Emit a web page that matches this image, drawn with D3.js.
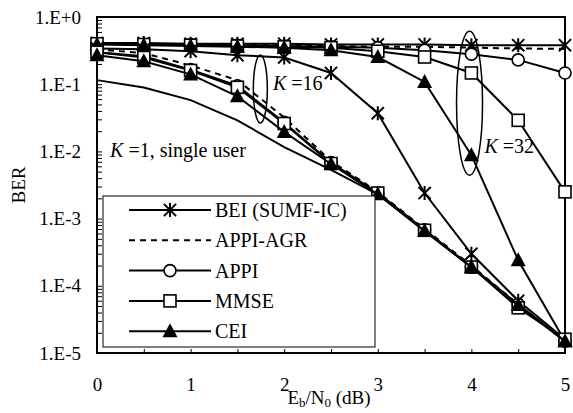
<!DOCTYPE html>
<html>
<head>
<meta charset="utf-8">
<script src="https://cdn.jsdelivr.net/npm/d3@7"></script>
<style>
  body { margin: 0; background: #fff; }
  svg text { font-family: "Liberation Serif", "Times New Roman", serif; fill: #000; }
</style>
</head>
<body>
<div id="container"></div>
<script>
// Eb/N0 in dB
var snr = [0, 0.5, 1, 1.5, 2, 2.5, 3, 3.5, 4, 4.5, 5];

// K = 32 users
var bei32  = [0.41, 0.41, 0.40, 0.40, 0.40, 0.39, 0.39, 0.39, 0.38, 0.38, 0.38];
var agr32  = [0.40, 0.39, 0.39, 0.38, 0.38, 0.37, 0.36, 0.36, 0.35, 0.34, 0.335];
var appi32 = [0.40, 0.39, 0.39, 0.38, 0.37, 0.36, 0.35, 0.32, 0.28, 0.23, 0.147];
var mmse32 = [0.40, 0.39, 0.38, 0.37, 0.36, 0.35, 0.31, 0.254, 0.147, 0.029, 0.0025];
var cei32  = [0.39, 0.38, 0.37, 0.36, 0.35, 0.32, 0.254, 0.108, 0.0088, 2.4e-4, 1.5e-5];

// K = 16 users
var bei16  = [0.34, 0.33, 0.31, 0.27, 0.25, 0.147, 0.037, 0.0024, 3.0e-4, 6.0e-5, 1.6e-5];
var agr16  = [0.33, 0.29, 0.19, 0.115, 0.032, 0.0072, 0.0025, 7.0e-4, 2.0e-4, 5.3e-5, 1.5e-5];
var appi16 = [0.30, 0.26, 0.165, 0.095, 0.027, 0.0068, 0.0024, 6.8e-4, 1.9e-4, 5.3e-5, 1.5e-5];
var mmse16 = [0.30, 0.25, 0.16, 0.09, 0.026, 0.0066, 0.0024, 6.7e-4, 1.9e-4, 4.7e-5, 1.6e-5];
var cei16  = [0.27, 0.22, 0.14, 0.066, 0.0195, 0.0065, 0.0023, 6.6e-4, 1.9e-4, 5.2e-5, 1.5e-5];

// K = 1, single user
var single = [0.115, 0.089, 0.058, 0.029, 0.0116, 0.0053, 0.0023, 6.5e-4, 1.9e-4, 5.1e-5, 1.5e-5];

var xTicks = [0, 0.5, 1, 1.5, 2, 2.5, 3, 3.5, 4, 4.5, 5];
var legendNames = ["BEI (SUMF-IC)", "APPI-AGR", "APPI", "MMSE", "CEI"];

var series = [
  { name: "BEI", marker: "star", dash: null, values: bei32 },
  { name: "APPI-AGR", marker: "none", dash: "6,5", values: agr32 },
  { name: "APPI", marker: "circle", dash: null, values: appi32 },
  { name: "MMSE", marker: "square", dash: null, values: mmse32 },
  { name: "CEI", marker: "triangle", dash: null, values: cei32 },
  { name: "BEI", marker: "star", dash: null, values: bei16 },
  { name: "APPI-AGR", marker: "none", dash: "6,5", values: agr16 },
  { name: "APPI", marker: "circle", dash: null, values: appi16 },
  { name: "MMSE", marker: "square", dash: null, values: mmse16 },
  { name: "CEI", marker: "triangle", dash: null, values: cei16 },
  { name: "single", marker: "none", dash: null, values: single }
];
var legendMarkers = ["star", "none", "circle", "square", "triangle"];
var legendDash = [null, "6,5", null, null, null];

var margin = { top: 17, right: 8, bottom: 60, left: 97 },
    width = 573 - margin.left - margin.right,
    height = 413 - margin.top - margin.bottom;

var svg = d3.select("div#container")
  .append("svg")
  .attr("width", 573)
  .attr("height", 413);

var g = svg.append("g")
  .attr("transform", "translate(" + margin.left + "," + margin.top + ")");

var x = d3.scaleLinear().domain([0, 5]).range([0, width]);
var y = d3.scaleLog().domain([1e-5, 1]).range([height, 0]);

// y ticks: majors with labels, minors inside
var yTickVals = [];
for (var e = -5; e < 0; e++) {
  for (var m = 1; m < 10; m++) yTickVals.push(m * Math.pow(10, e));
}
yTickVals.push(1);

function yLabel(d) {
  var p = Math.round(Math.log10(d));
  if (Math.abs(d - Math.pow(10, p)) > 1e-12) return "";
  return p === 0 ? "1.E+0" : "1.E" + p;
}

var yAxis = g.append("g")
  .call(d3.axisLeft(y).tickValues(yTickVals).tickSize(-5).tickPadding(16).tickFormat(yLabel));
yAxis.select(".domain").remove();
yAxis.selectAll("line").attr("stroke", "#000").attr("stroke-width", 1);
yAxis.selectAll("text").style("font-size", "19px");

var xAxis = g.append("g")
  .attr("transform", "translate(0," + height + ")")
  .call(d3.axisBottom(x).tickValues(xTicks).tickSize(-4).tickPadding(25)
    .tickFormat(function (d) { return d % 1 === 0 ? d : ""; }));
xAxis.select(".domain").remove();
xAxis.selectAll("line").attr("stroke", "#000").attr("stroke-width", 1);
xAxis.selectAll("text").style("font-size", "19px");

// frame
g.append("rect")
  .attr("width", width).attr("height", height)
  .attr("fill", "none").attr("stroke", "#000").attr("stroke-width", 2);

var line = d3.line()
  .x(function (d) { return x(d[0]); })
  .y(function (d) { return y(d[1]); });

function drawMarker(sel, type, cx, cy) {
  if (type === "star") {
    var r = 7;
    sel.append("path")
      .attr("d", "M" + cx + "," + (cy - r) + "V" + (cy + r) +
        "M" + (cx - r * 0.87) + "," + (cy - r * 0.87) + "L" + (cx + r * 0.87) + "," + (cy + r * 0.87) +
        "M" + (cx - r * 0.87) + "," + (cy + r * 0.87) + "L" + (cx + r * 0.87) + "," + (cy - r * 0.87))
      .attr("stroke", "#000").attr("stroke-width", 2).attr("fill", "none");
  } else if (type === "circle") {
    sel.append("circle").attr("cx", cx).attr("cy", cy).attr("r", 6)
      .attr("fill", "#fff").attr("stroke", "#000").attr("stroke-width", 1.6);
  } else if (type === "square") {
    sel.append("rect").attr("x", cx - 6).attr("y", cy - 6).attr("width", 12).attr("height", 12)
      .attr("fill", "#fff").attr("stroke", "#000").attr("stroke-width", 1.6);
  } else if (type === "triangle") {
    sel.append("path")
      .attr("d", "M" + cx + "," + (cy - 8) + "L" + (cx + 7.5) + "," + (cy + 6) + "L" + (cx - 7.5) + "," + (cy + 6) + "Z")
      .attr("fill", "#000");
  }
}

series.forEach(function (s) {
  var pts = snr.map(function (d, i) { return [d, s.values[i]]; });
  g.append("path")
    .datum(pts)
    .attr("d", line)
    .attr("fill", "none")
    .attr("stroke", "#000")
    .attr("stroke-width", 2)
    .attr("stroke-dasharray", s.dash);
  var mg = g.append("g");
  pts.forEach(function (p) { drawMarker(mg, s.marker, x(p[0]), y(p[1])); });
});

// ellipses and annotations
g.append("ellipse")
  .attr("cx", x(1.745)).attr("cy", y(0.085)).attr("rx", 7).attr("ry", 34)
  .attr("fill", "none").attr("stroke", "#000").attr("stroke-width", 1.5);
g.append("ellipse")
  .attr("cx", x(3.98)).attr("cy", y(0.052)).attr("rx", 13).attr("ry", 72)
  .attr("fill", "none").attr("stroke", "#000").attr("stroke-width", 1.5);

function kLabel(px, py, rest) {
  var t = g.append("text").attr("x", px).attr("y", py).style("font-size", "20px");
  t.append("tspan").style("font-style", "italic").text("K");
  t.append("tspan").text(" =" + rest);
}
kLabel(x(1.88), y(0.082), "16");
kLabel(x(4.14), y(0.0095), "32");
kLabel(x(0.14), y(0.0083), "1, single user");

// legend
var lg = g.append("g").attr("transform", "translate(6,179)");
lg.append("rect").attr("width", 272).attr("height", 151)
  .attr("fill", "#fff").attr("stroke", "#000").attr("stroke-width", 1);
legendNames.forEach(function (n, i) {
  var ly = 14 + i * 30.3;
  lg.append("line").attr("x1", 26).attr("x2", 108).attr("y1", ly).attr("y2", ly)
    .attr("stroke", "#000").attr("stroke-width", 2).attr("stroke-dasharray", legendDash[i]);
  drawMarker(lg, legendMarkers[i], 67, ly);
  lg.append("text").attr("x", 112).attr("y", ly + 7).style("font-size", "20px").text(n);
});

// axis titles
svg.append("text")
  .attr("transform", "translate(25,185) rotate(-90)")
  .attr("text-anchor", "middle").style("font-size", "19px").text("BER");
var xt = svg.append("text")
  .attr("x", margin.left + width / 2 - 2).attr("y", 404)
  .attr("text-anchor", "middle").style("font-size", "19px");
xt.append("tspan").text("E");
xt.append("tspan").attr("dy", 3).style("font-size", "13px").text("b");
xt.append("tspan").attr("dy", -3).text("/N");
xt.append("tspan").attr("dy", 3).style("font-size", "13px").text("0");
xt.append("tspan").attr("dy", -3).text(" (dB)");
</script>
</body>
</html>
